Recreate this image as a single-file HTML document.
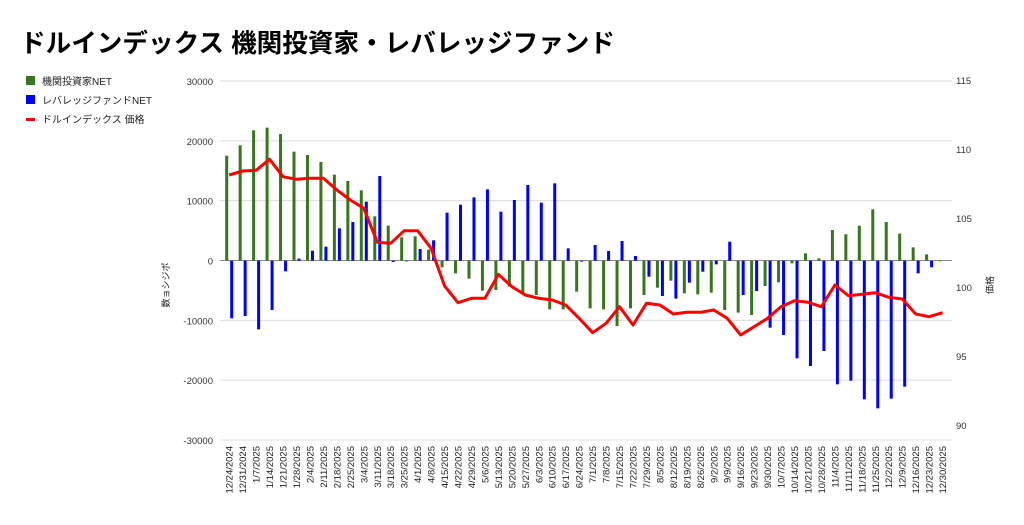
<!DOCTYPE html>
<html><head><meta charset="utf-8"><style>
body{margin:0;background:#fff;width:1024px;height:520px;overflow:hidden;font-family:"Liberation Sans","Noto Sans CJK JP",sans-serif;}
</style></head><body>
<svg id="s" width="1024" height="520" xmlns="http://www.w3.org/2000/svg" font-family="Liberation Sans, Noto Sans CJK JP, sans-serif">
<text x="20" y="52" font-size="25.6" font-weight="bold" fill="#000">ドルインデックス 機関投資家・レバレッジファンド</text>
<rect x="26" y="76" width="9" height="9" fill="#38761d"/>
<text x="42" y="85" font-size="10" fill="#222">機関投資家NET</text>
<rect x="26" y="95" width="9" height="9" fill="#0000ff"/>
<text x="42" y="104" font-size="10" fill="#222">レバレッジファンドNET</text>
<rect x="26" y="118" width="9" height="3" fill="#ff0000"/>
<text x="42" y="123" font-size="10" fill="#222">ドルインデックス 価格</text>
<g id="grid"></g>
<g id="bars"></g>
<polyline id="price" fill="none" stroke="#ff0000" stroke-width="3" stroke-linejoin="round"/>
<text transform="translate(169,285) rotate(-90)" font-size="9" text-anchor="middle" fill="#222">数ョシジポ</text>
<text transform="translate(993,285) rotate(-90)" font-size="9" text-anchor="middle" fill="#222">価格</text>
<g id="xl"></g>
</svg>
<script>
var NS="http://www.w3.org/2000/svg";
function el(p,t,a,txt){var e=document.createElementNS(NS,t);for(var k in a)e.setAttribute(k,a[k]);if(txt!==undefined)e.textContent=txt;document.getElementById(p).appendChild(e);return e;}
var lv=[30000,20000,10000,0,-10000,-20000,-30000];
for(var i=0;i<7;i++){var y=81+i*59.83;
 el("grid","line",{x1:220,x2:952,y1:y,y2:y,stroke:i==3?"#888":"#ddd","stroke-width":1});
 el("grid","text",{x:213,y:y+4,"font-size":"9.5","text-anchor":"end",fill:"#333"},lv[i]);}
var rv=[115,110,105,100,95,90];
for(var i=0;i<6;i++){el("grid","text",{x:956,y:84+i*69,"font-size":"9.5",fill:"#333"},rv[i]);}
var G=[287,256,211,203,222,275,285,306,344,363,391,469,497,532,529,569,622,640,656,692,690,680,700,705,748,748,695,745,748,798,745,705,683,662,700,703,698,750,758,765,678,667,610,580,595,510,523,497,448,486,521,562,583,604];
var B=[775,768,808,750,634,596,572,560,505,486,425,348,606,604,567,541,458,434,412,388,455,420,375,428,370,565,605,555,573,543,588,650,708,716,668,635,613,545,705,693,803,825,895,918,873,973,962,1018,1045,1016,980,640,622,602];
var P=[345,333,331,298,350,358,355,355,390,420,445,547,550,512,512,565,678,728,715,715,643,680,705,715,720,735,775,818,790,740,795,730,735,762,757,757,750,775,825,800,775,740,722,727,740,675,707,703,698,712,717,762,770,758];
var z=260.7,pts=[];
var d0=new Date(2024,11,24);
for(var i=0;i<54;i++){var x=226.7+i*13.46;
 var gy=60+G[i]/3, by=60+B[i]/3;
 el("bars","rect",{x:x-1.5,y:Math.min(gy,z),width:3,height:Math.max(Math.abs(gy-z),0.6),fill:"#38761d"});
 if(Math.abs(by-z)>0.3)el("bars","rect",{x:x+3.5,y:Math.min(by,z),width:3,height:Math.abs(by-z),fill:"#0000ff"});
 pts.push((x+2.5).toFixed(1)+","+(60+P[i]/3).toFixed(1));
 var d=new Date(d0.getTime()+i*7*86400000);
 var s=(d.getMonth()+1)+"/"+d.getDate()+"/"+d.getFullYear();
 el("xl","text",{transform:"translate("+(x+6)+",446) rotate(-90)","font-size":"9.5","text-anchor":"end",fill:"#222"},s);}
document.getElementById("price").setAttribute("points",pts.join(" "));
</script>
</body></html>
